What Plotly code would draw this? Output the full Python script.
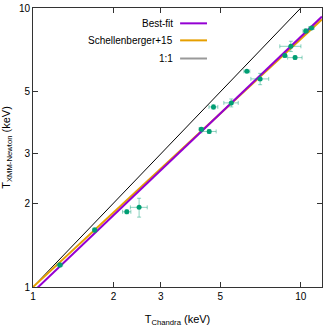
import numpy as np
import plotly.graph_objects as go

# --- data ---
t_chandra = [1.26, 1.70, 2.24, 2.49, 4.25, 4.55, 4.72, 5.50, 6.29, 7.05, 8.72, 9.18, 9.52, 10.44, 10.96]
t_chandra_err = [0.03, 0.03, 0.08, 0.18, 0.08, 0.28, 0.18, 0.34, 0.16, 0.54, 0.10, 0.83, 0.59, 0.25, 0.25]
t_xmm = [1.20, 1.60, 1.86, 1.93, 3.68, 3.61, 4.42, 4.57, 5.93, 5.57, 6.75, 7.29, 6.64, 8.27, 8.48]
t_xmm_err = [0.02, 0.03, 0.03, 0.15, 0.05, 0.06, 0.08, 0.15, 0.05, 0.26, 0.08, 0.31, 0.10, 0.15, 0.10]

# relations: log10(T_XMM) = intercept + slope * log10(T_Chandra)
bestfit_slope, bestfit_intercept = 0.915, -0.018
schell_slope, schell_intercept = 0.889, 0.0
line_x = [1.0, 12.0]

tick_vals = [1, 2, 3, 5, 10]
tick_text = ["1", "2", "3", "5", "10"]

def relation(x, slope, intercept):
    x = np.asarray(x)
    return 10 ** (intercept + slope * np.log10(x))

PURPLE = "#9400D3"
ORANGE = "#E69F00"
GREEN = "#009E73"
FONT = "Liberation Sans"

fig = go.Figure()
fig.add_trace(go.Scatter(x=line_x, y=line_x, mode="lines",
                         line=dict(color="black", width=1), showlegend=False))
fig.add_trace(go.Scatter(x=line_x, y=relation(line_x, schell_slope, schell_intercept),
                         mode="lines", line=dict(color=ORANGE, width=2), showlegend=False))
fig.add_trace(go.Scatter(x=line_x, y=relation(line_x, bestfit_slope, bestfit_intercept),
                         mode="lines", line=dict(color=PURPLE, width=2), showlegend=False))
fig.add_trace(go.Scatter(
    x=t_chandra, y=t_xmm, mode="markers",
    marker=dict(color=GREEN, size=5),
    error_x=dict(type="data", array=t_chandra_err, color="rgba(0,158,115,0.45)", thickness=1, width=2),
    error_y=dict(type="data", array=t_xmm_err, color="rgba(0,158,115,0.45)", thickness=1, width=2),
    showlegend=False))

# legend drawn gnuplot-style (text right-aligned, sample to the right)
legend_items = [("Best-fit", PURPLE), ("Schellenberger+15", ORANGE), ("1:1", "#999999")]
legend_y = [0.945, 0.884, 0.819]
for (name, col), yy in zip(legend_items, legend_y):
    fig.add_annotation(xref="paper", yref="paper", x=0.491, y=yy, text=name,
                       showarrow=False, xanchor="right", yanchor="middle",
                       font=dict(family=FONT, size=10, color="black"))
    fig.add_shape(type="line", xref="paper", yref="paper", x0=0.509, x1=0.602,
                  y0=yy, y1=yy, line=dict(color=col, width=2))

axis_common = dict(
    type="log", tickvals=tick_vals, ticktext=tick_text,
    ticks="inside", ticklen=5, tickwidth=1, tickcolor="#333",
    showline=True, linecolor="#333", linewidth=1, mirror="ticks",
    showgrid=False, zeroline=False, automargin=False,
    tickfont=dict(family=FONT, size=10, color="black"),
)
fig.update_xaxes(range=[0, np.log10(12)],
                 title=dict(text="T<sub>Chandra</sub> (keV)", font=dict(family=FONT, size=11, color="black"), standoff=14),
                 **axis_common)
fig.update_yaxes(range=[0, 1],
                 title=dict(text="T<sub>XMM-Newton</sub> (keV)", font=dict(family=FONT, size=11, color="black"), standoff=8),
                 **axis_common)

fig.update_layout(width=332, height=327,
                  margin=dict(l=33, r=10, t=8, b=40, autoexpand=False),
                  plot_bgcolor="white", paper_bgcolor="white")
fig.write_html("out.html", config={"displayModeBar": False},
               post_script="document.body.style.margin='0';document.body.style.overflow='hidden';")
